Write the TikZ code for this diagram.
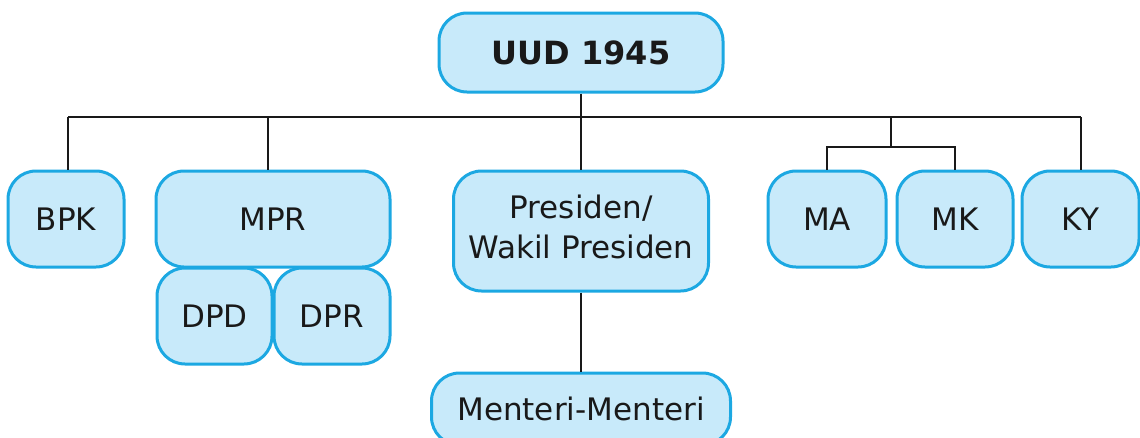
\documentclass[tikz,border=0pt]{standalone}
\usepackage{fontspec}
\setmainfont{DejaVu Sans}
\definecolor{boxfill}{RGB}{200,234,250}
\definecolor{boxline}{RGB}{28,168,226}
\begin{document}
\begin{tikzpicture}[x=1pt,y=-1pt,
  orgbox/.style={draw=boxline, fill=boxfill, line width=3pt, rounded corners=28pt,
    inner sep=0pt, align=center, font=\fontsize{31}{40}\selectfont, text=black!90},
  conn/.style={draw=black!90, line width=2.7pt}]
\useasboundingbox (0,0) rectangle (1140,437);
% boxes
\node[orgbox, minimum width=284pt, minimum height=79pt, font=\fontsize{32}{40}\selectfont\bfseries] (uud) at (581,52.5) {UUD 1945};
\node[orgbox, minimum width=116pt, minimum height=96pt] (bpk) at (66,219) {BPK};
\node[orgbox, minimum width=234pt, minimum height=96pt] (mpr) at (273,219) {MPR};
\node[orgbox, minimum width=115pt, minimum height=96pt] (dpd) at (214.5,316) {DPD};
\node[orgbox, minimum width=116pt, minimum height=96pt] (dpr) at (332,316) {DPR};
\node[orgbox, minimum width=255pt, minimum height=120pt, text depth=8pt] (pres) at (581,231) {Presiden/\\Wakil Presiden};
\node[orgbox, minimum width=299pt, minimum height=72pt] (ment) at (581,409) {Menteri-Menteri};
\node[orgbox, minimum width=118pt, minimum height=96pt] (ma) at (827,219) {MA};
\node[orgbox, minimum width=116pt, minimum height=96pt] (mk) at (955,219) {MK};
\node[orgbox, minimum width=117pt, minimum height=96pt] (ky) at (1080.5,219) {KY};
% junction coordinates
\coordinate (jl) at (68,117);
\coordinate (jmpr) at (268,117);
\coordinate (jm) at (891,117);
\coordinate (jmb) at (891,147);
\coordinate (jr) at (1081,117);
% connectors
\draw[conn] (uud.south) -- (pres.north);
\draw[conn] (jl) -- (jr);
\draw[conn] (jl) -- (jl |- bpk.north);
\draw[conn] (jmpr) -- (jmpr |- mpr.north);
\draw[conn] (jm) -- (jmb);
\draw[conn] (ma.north) -- (ma.north |- jmb) -- (mk.north |- jmb) -- (mk.north);
\draw[conn] (jr) -- (jr |- ky.north);
\draw[conn] (pres.south) -- (ment.north);
\end{tikzpicture}
\end{document}
